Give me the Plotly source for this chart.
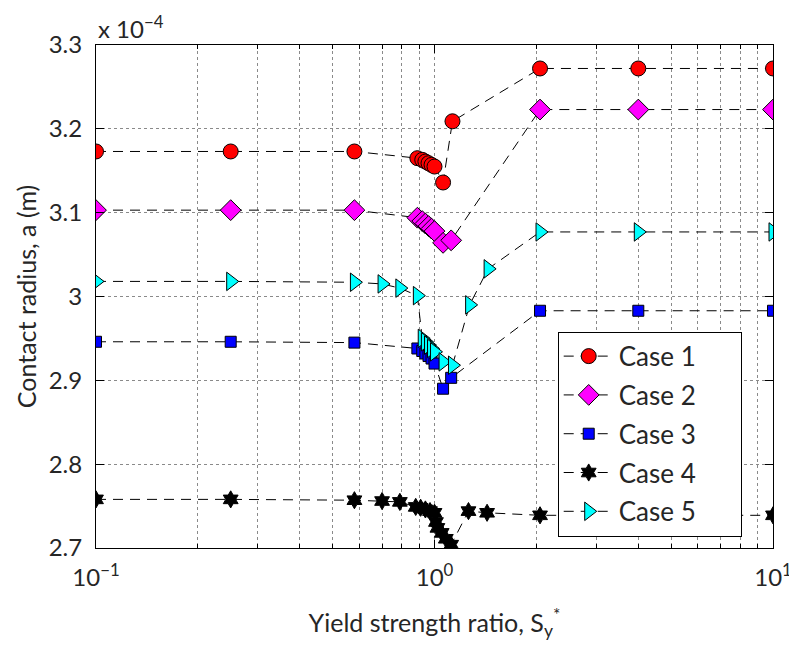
import plotly.graph_objects as go

# Data (y in units of 1e-4 m)
x1 = [0.1, 0.25, 0.58, 0.89, 0.92, 0.94, 0.96, 0.98, 1.0, 1.06, 1.13, 2.05, 4.0, 10.0]
y1 = [3.173, 3.173, 3.173, 3.165, 3.163, 3.161, 3.159, 3.157, 3.155, 3.136, 3.209, 3.272, 3.272, 3.272]

x2 = [0.1, 0.25, 0.58, 0.89, 0.92, 0.94, 0.96, 0.98, 1.0, 1.06, 1.12, 2.05, 4.0, 10.0]
y2 = [3.103, 3.103, 3.103, 3.094, 3.090, 3.087, 3.084, 3.081, 3.078, 3.064, 3.067, 3.223, 3.223, 3.223]

x3 = [0.1, 0.25, 0.58, 0.89, 0.92, 0.94, 0.96, 0.98, 1.0, 1.06, 1.12, 2.05, 4.0, 10.0]
y3 = [2.946, 2.946, 2.945, 2.938, 2.935, 2.932, 2.929, 2.926, 2.920, 2.890, 2.903, 2.983, 2.983, 2.983]

x4 = [0.1, 0.25, 0.58, 0.70, 0.79, 0.88, 0.91, 0.94, 0.97, 1.0, 1.01, 1.02, 1.05, 1.08, 1.12, 1.26, 1.43, 2.05, 4.0, 10.0]
y4 = [2.758, 2.758, 2.757, 2.756, 2.755, 2.749, 2.748, 2.746, 2.744, 2.742, 2.731, 2.724, 2.718, 2.711, 2.704, 2.744, 2.742, 2.739, 2.739, 2.739]

x5 = [0.1, 0.25, 0.58, 0.70, 0.79, 0.89, 0.92, 0.94, 0.96, 0.98, 1.0, 1.06, 1.13, 1.27, 1.44, 2.05, 4.0, 10.0]
y5 = [3.018, 3.018, 3.017, 3.015, 3.010, 3.001, 2.950, 2.946, 2.942, 2.938, 2.934, 2.922, 2.918, 2.990, 3.033, 3.077, 3.077, 3.077]

names = ["Case 1", "Case 2", "Case 3", "Case 4", "Case 5"]
y_ticks = [2.7, 2.8, 2.9, 3.0, 3.1, 3.2, 3.3]
y_ticktext = ["2.7", "2.8", "2.9", "3", "3.1", "3.2", "3.3"]
x_ticks = [0.1, 1, 10]
x_ticktext = ["10<sup>\u22121</sup>", "10<sup>0</sup>", "10<sup>1</sup>"]

styles = [
    dict(symbol="circle", color="red", size=15),
    dict(symbol="diamond", color="magenta", size=16),
    dict(symbol="square", color="blue", size=11),
    dict(symbol="hexagram", color="black", size=13),
    dict(symbol="triangle-right", color="cyan", size=16),
]

FONT = "Lato, 'Open Sans', sans-serif"
TXT = "#262626"
PAD = "\u00a0" * 6  # extra room on the right of legend labels

fig = go.Figure()
for i, (xs, ys) in enumerate([(x1, y1), (x2, y2), (x3, y3), (x4, y4), (x5, y5)]):
    st = styles[i]
    fig.add_trace(go.Scatter(
        x=xs, y=ys, name=names[i] + PAD, mode="lines+markers",
        legendgroup=names[i],
        line=dict(color="black", width=1, dash="10px,7px"),
        marker=dict(symbol=st["symbol"], color=st["color"], size=st["size"],
                    line=dict(color="black", width=1)),
    ))

axis_common = dict(
    showline=True, linecolor="black", linewidth=1, mirror="allticks",
    ticks="inside", tickcolor="black", ticklen=8, tickwidth=1,
    showgrid=True, gridcolor="#8a8a8a", griddash="dot", gridwidth=1,
    zeroline=False, tickfont=dict(size=24, color=TXT, family=FONT),
    automargin=False,
)

fig.update_xaxes(
    type="log", range=[-1, 1], tickvals=x_ticks, ticktext=x_ticktext,
    ticklabeloverflow="allow", ticklabelstandoff=8,
    minor=dict(dtick="D1", ticks="inside", ticklen=4, tickcolor="black",
               showgrid=True, gridcolor="#8a8a8a", griddash="dot", gridwidth=1),
    title=dict(text="Yield strength ratio, S<sub>y</sub><sup>*</sup>",
               font=dict(size=25, color=TXT, family=FONT), standoff=24),
    **axis_common,
)
fig.update_yaxes(
    range=[2.7, 3.3], tickvals=y_ticks, ticktext=y_ticktext,
    ticklabelstandoff=8,
    title=dict(text="Contact radius, a (m)",
               font=dict(size=25, color=TXT, family=FONT), standoff=4),
    **axis_common,
)

fig.add_annotation(
    xref="paper", yref="paper", x=0, y=1, xanchor="left", yanchor="bottom",
    text="x 10<sup>\u22124</sup>", showarrow=False, yshift=0,
    font=dict(size=24, color=TXT, family=FONT),
)

fig.update_layout(
    width=789, height=647,
    margin=dict(l=96, r=16, t=45, b=99, autoexpand=False),
    paper_bgcolor="white", plot_bgcolor="white",
    font=dict(family=FONT, color=TXT),
    showlegend=True,
    legend=dict(
        x=0.682, y=0.43, xanchor="left", yanchor="top",
        bgcolor="white", bordercolor="black", borderwidth=1,
        font=dict(size=26, color=TXT, family=FONT),
        tracegroupgap=2, itemwidth=50,
    ),
)

fig.write_html("out.html")
